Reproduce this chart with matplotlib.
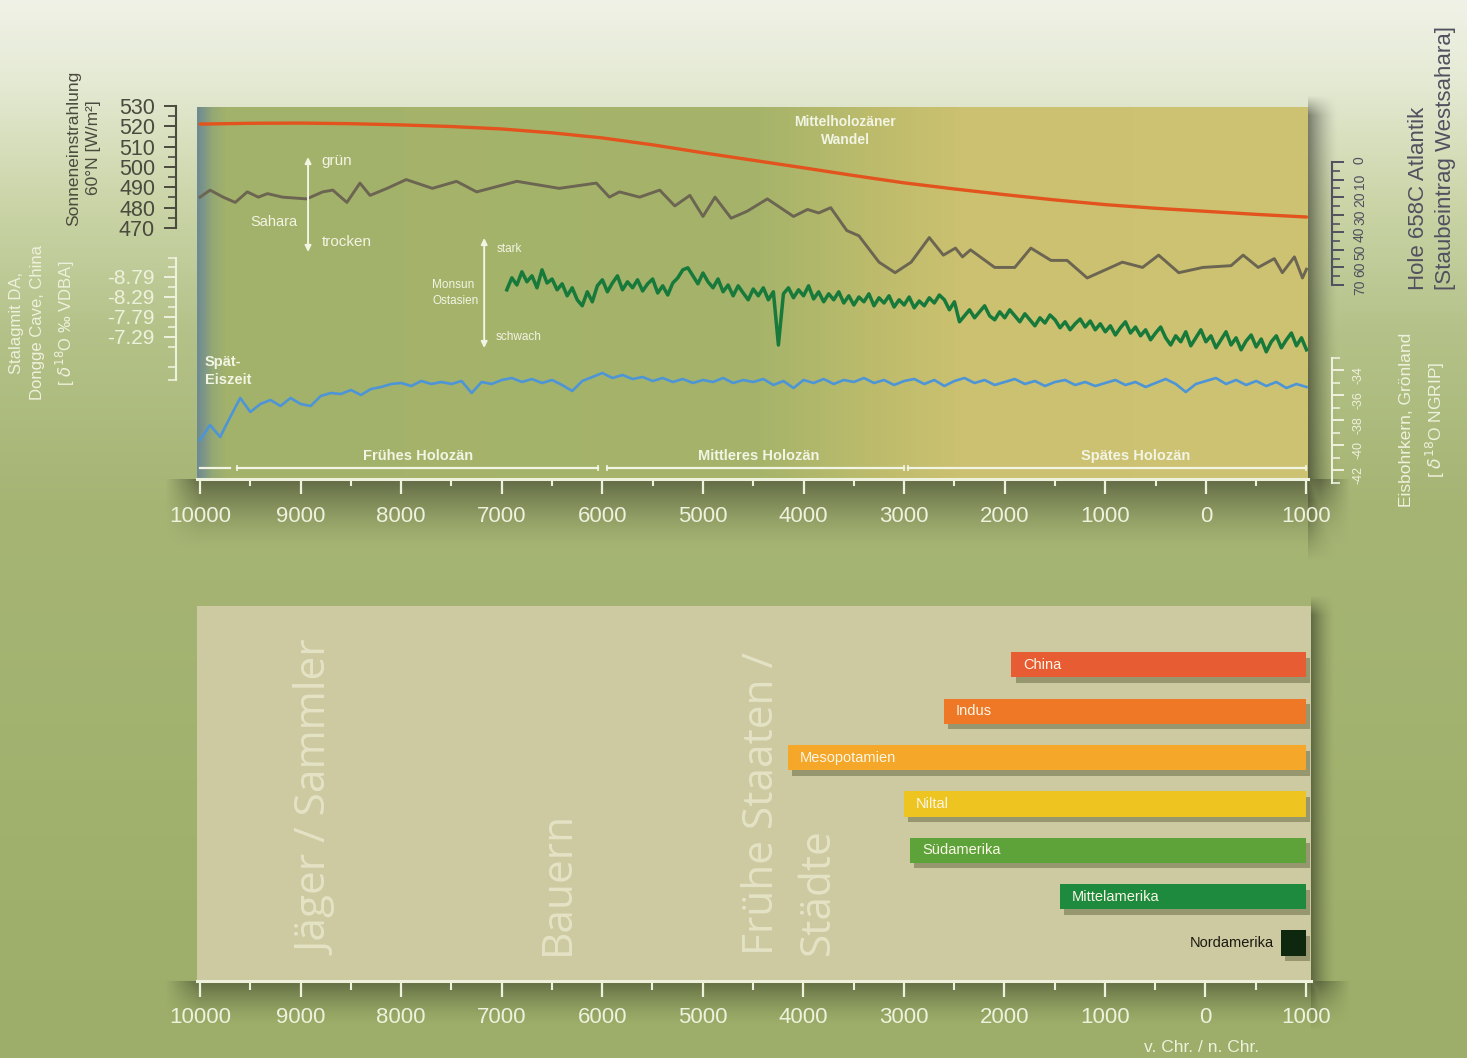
import numpy as np
import matplotlib
matplotlib.use("Agg")
import matplotlib.pyplot as plt
import matplotlib.patheffects as pe
from matplotlib.ticker import FixedLocator

plt.rcParams['font.family'] = ['Liberation Sans', 'DejaVu Sans']

# ------------------------------------------------------------------ data
x_tick_values = [-10000, -9000, -8000, -7000, -6000, -5000, -4000, -3000, -2000, -1000, 0, 1000]
x_tick_labels = ['10000', '9000', '8000', '7000', '6000', '5000', '4000', '3000', '2000', '1000', '0', '1000']

# summer insolation 60°N [W/m²]
insol_years = [-10000, -9500, -9000, -8500, -8000, -7500, -7000, -6500, -6000, -5500, -5000, -4500,
               -4000, -3500, -3000, -2500, -2000, -1500, -1000, -500, 0, 500, 1000]
insol_values = [521.1, 521.5, 521.6, 521.3, 520.7, 519.9, 518.7, 516.8, 514.3, 510.9, 507.0, 503.3,
                499.6, 495.8, 492.2, 489.2, 486.4, 483.8, 481.5, 479.7, 478.2, 476.7, 475.4]
insol_ticks = [470, 480, 490, 500, 510, 520, 530]

# Hole 658C Atlantik, dust input West Sahara (axis inverted)
sahara_years = [-10000, -9900, -9770, -9650, -9530, -9420, -9330, -9180, -8940, -8780, -8680, -8540,
                -8410, -8310, -8140, -7950, -7690, -7450, -7250, -6850, -6430, -6060, -5930, -5830,
                -5630, -5430, -5280, -5130, -5000, -4880, -4720, -4560, -4360, -4100, -3960, -3850,
                -3730, -3570, -3450, -3250, -3090, -2930, -2750, -2610, -2490, -2420, -2340, -2100,
                -1900, -1740, -1540, -1380, -1180, -830, -630, -470, -270, -30, 250, 370, 520, 680,
                760, 880, 960, 1000]
sahara_dust = [20, 16, 20, 23, 17, 20, 18, 20, 21, 17,
               16, 23, 12, 19, 15, 10, 15, 11, 17, 11,
               15, 12, 20, 17, 20, 16, 25, 19, 31, 20,
               32, 28, 21, 31, 27, 29, 26, 39, 42, 57,
               63, 57, 43, 53, 49, 54, 50, 60, 60, 49,
               56, 56, 66, 57, 60, 53, 63, 60, 59, 53,
               60, 55, 63, 54, 66, 61]
dust_ticks = [0, 10, 20, 30, 40, 50, 60, 70]

# Stalagmite DA, Dongge Cave, China  (delta18O permil VPDB)
dongge_years = list(range(-6950, 1001, 50))
dongge_d18o = [-8.47, -8.77, -8.59, -8.92, -8.67, -8.82, -8.52, -8.97, -8.64, -8.74,
               -8.47, -8.62, -8.32, -8.52, -8.22, -8.07, -8.42, -8.17, -8.57, -8.72,
               -8.42, -8.64, -8.82, -8.47, -8.67, -8.52, -8.72, -8.44, -8.62, -8.74,
               -8.39, -8.57, -8.34, -8.64, -8.77, -8.97, -9.02, -8.82, -8.62, -8.89,
               -8.67, -8.52, -8.74, -8.42, -8.59, -8.32, -8.57, -8.39, -8.22, -8.49,
               -8.32, -8.52, -8.22, -8.42, -7.09, -8.37, -8.52, -8.27, -8.47, -8.32,
               -8.57, -8.24, -8.42, -8.17, -8.37, -8.22, -8.42, -8.14, -8.32, -8.09,
               -8.29, -8.17, -8.37, -8.07, -8.27, -8.14, -8.32, -8.04, -8.22, -8.09,
               -8.29, -8.02, -8.19, -8.07, -8.27, -8.14, -8.34, -8.22, -7.97, -8.17,
               -7.67, -7.82, -7.97, -7.77, -7.92, -8.07, -7.82, -7.72, -7.92, -7.77,
               -7.97, -7.82, -7.67, -7.87, -7.72, -7.57, -7.77, -7.64, -7.84, -7.72,
               -7.52, -7.67, -7.47, -7.62, -7.74, -7.54, -7.69, -7.47, -7.62, -7.42,
               -7.57, -7.34, -7.52, -7.67, -7.39, -7.54, -7.32, -7.47, -7.22, -7.39,
               -7.54, -7.27, -7.09, -7.32, -7.17, -7.42, -7.07, -7.27, -7.47, -7.17,
               -7.32, -7.02, -7.22, -7.42, -7.09, -7.27, -6.97, -7.19, -7.34, -7.04,
               -7.24, -6.92, -7.17, -7.32, -7.02, -7.22, -7.39, -7.07, -7.27, -6.97]
dongge_ticks = [-8.79, -8.29, -7.79, -7.29]

# NGRIP ice core, Greenland (delta18O)
ngrip_years = list(range(-10000, 1001, 100))
ngrip_d18o = [-39.56, -38.36, -39.32, -37.72, -36.20, -37.32, -36.68, -36.36, -36.84, -36.20,
              -36.68, -36.84, -36.04, -35.80, -35.88, -35.56, -35.96, -35.48, -35.32, -35.08,
              -35.00, -35.24, -34.84, -35.08, -34.92, -35.08, -34.84, -35.80, -34.92, -35.08,
              -34.76, -34.60, -34.92, -34.68, -35.00, -34.76, -35.16, -35.64, -34.84, -34.52,
              -34.20, -34.60, -34.36, -34.68, -34.52, -34.84, -34.60, -34.92, -34.68, -35.00,
              -34.76, -34.92, -34.60, -35.00, -34.76, -34.92, -34.68, -35.16, -34.84, -35.40,
              -34.76, -35.00, -34.68, -35.08, -34.76, -34.92, -34.60, -35.00, -34.76, -35.16,
              -34.84, -34.68, -35.08, -34.76, -35.24, -34.84, -34.60, -35.00, -34.76, -35.16,
              -34.92, -34.68, -35.08, -34.84, -35.24, -34.92, -34.76, -35.16, -34.92, -35.24,
              -35.00, -34.76, -35.16, -34.92, -35.32, -35.00, -34.68, -35.08, -35.72, -35.08,
              -34.84, -34.60, -35.08, -34.76, -35.16, -34.84, -35.24, -34.92, -35.40, -35.08,
              -35.32]
ngrip_ticks = [-34, -36, -38, -40, -42]
ngrip_minor = [-33, -35, -37, -39, -41, -43]

# Holocene sub-periods
late_glacial = (-10000, -9700)
period_names = ['Frühes Holozän', 'Mittleres Holozän', 'Spätes Holozän']
period_start = [-9630, -5950, -2960]
period_end = [-6040, -3000, 1000]
period_label_x = [-7830, -4450, -700]

# early states / cities
civ_names = ['China', 'Indus', 'Mesopotamien', 'Niltal', 'Südamerika', 'Mittelamerika', 'Nordamerika']
civ_start = [-1930, -2600, -4150, -3000, -2940, -1450, 750]
civ_end = [1000, 1000, 1000, 1000, 1000, 1000, 1000]
civ_colors = ['#e85c34', '#ee7826', '#f4a728', '#eec420', '#5ea33a', '#1e8a3e', '#0e2810']

phase_labels = ['Jäger / Sammler', 'Bauern', 'Frühe Staaten /', 'Städte']

# ------------------------------------------------------------------ figure
W, H = 1467, 1058
fig = plt.figure(figsize=(W / 100, H / 100), dpi=100)

LIGHT = '#eef1dc'
DARK = '#4a4a3e'
DUSTC = '#50505f'


def ramp(pos, stops, cols):
    cols = np.asarray(cols, float)
    return np.stack([np.interp(pos, stops, cols[:, k]) for k in range(3)], axis=-1)


ys = np.arange(H, dtype=float)
xs = np.arange(W, dtype=float)
bg = np.repeat(ramp(ys, [0, 80, 200, 330, 500, 1058],
                    [(240, 242, 231), (229, 234, 212), (203, 213, 168), (180, 194, 137),
                     (166, 181, 116), (156, 174, 105)])[:, None, :], W, axis=1)
X, Y = np.meshgrid(xs, ys)


def band(t, length):
    return np.clip(1 - t / length, 0, 1) * (t >= 0)


hfade = np.clip((X - 165) / 35.0, 0, 1) * np.clip((1350 - X) / 30.0, 0, 1)
s1 = 0.42 * band(Y - 479, 70) ** 1.5 * hfade
s2 = 0.45 * band(X - 1308, 30) ** 1.5 * np.clip((Y - 95) / 20.0, 0, 1) * np.clip((560 - Y) / 60.0, 0, 1)
s3 = 0.38 * band(Y - 981, 45) ** 1.5 * hfade
s4 = 0.40 * band(X - 1311, 24) ** 1.5 * np.clip((Y - 595) / 20.0, 0, 1) * np.clip((1030 - Y) / 40.0, 0, 1)
shade = np.maximum.reduce([s1, s2, s3, s4])
bg = bg * (1 - shade[..., None])
tp = ramp(xs[197:1308], [197, 203, 212, 226, 760, 880, 960, 1308],
          [(110, 138, 146), (124, 149, 136), (148, 168, 116), (163, 178, 107), (166, 180, 106),
           (190, 188, 108), (203, 193, 112), (206, 195, 115)])
bg[107:479, 197:1308] = tp[None]
bg[606:981, 197:1311] = (205, 201, 160)

bg_ax = fig.add_axes([0, 0, 1, 1], zorder=-10)
bg_ax.imshow(np.clip(bg / 255.0, 0, 1), extent=[0, W, H, 0], aspect='auto', interpolation='bilinear')
bg_ax.set_xlim(0, W)
bg_ax.set_ylim(H, 0)
bg_ax.set_axis_off()


def rect(l, t, r, b):
    return [l / W, 1 - b / H, (r - l) / W, (b - t) / H]


def pt(px):
    return px * 72.0 / 100.0


TOP = (197, 107, 1308, 479)
OV = (197, 60, 1308, 560)
XL = (-10030, 1015)

# main top axes (x axis only)
ax = fig.add_axes(rect(*TOP))
ax.patch.set_visible(False)
ax.set_xlim(*XL)
ax.set_ylim(0, 1)
for s in ['left', 'right', 'top']:
    ax.spines[s].set_visible(False)
ax.spines['bottom'].set_color(LIGHT)
ax.spines['bottom'].set_linewidth(2.2)
ax.set_yticks([])
ax.set_xticks(x_tick_values)
ax.set_xticklabels(x_tick_labels)
ax.xaxis.set_minor_locator(FixedLocator([v + 500 for v in x_tick_values[:-1]]))
ax.tick_params(axis='x', which='major', direction='out', length=pt(15), width=1.6,
               colors=LIGHT, labelsize=16, pad=pt(12))
ax.tick_params(axis='x', which='minor', direction='out', length=pt(7), width=1.5, colors=LIGHT)


def overlay(v0, p0, v1, p1):
    a = fig.add_axes(rect(*OV))
    a.patch.set_visible(False)
    a.set_xlim(*XL)
    slope = (v1 - v0) / (p1 - p0)
    a.set_ylim(v0 + (OV[3] - p0) * slope, v0 + (OV[1] - p0) * slope)
    a.xaxis.set_visible(False)
    for s in a.spines.values():
        s.set_visible(False)
    return a


def style_axis(a, side, offset_px, bounds, ticks, minor, color, labelsize, rot=0, labels=None):
    sp = a.spines[side]
    sp.set_visible(True)
    sp.set_position(('outward', pt(offset_px)))
    sp.set_bounds(*bounds)
    sp.set_color(color)
    sp.set_linewidth(1.5)
    a.yaxis.set_ticks_position(side)
    a.yaxis.set_label_position(side)
    a.set_yticks(ticks)
    if labels is not None:
        a.set_yticklabels(labels)
    a.yaxis.set_minor_locator(FixedLocator(minor))
    a.tick_params(axis='y', which='major', direction='out', length=pt(12), width=1.4,
                  colors=color, labelsize=labelsize, pad=pt(9), labelrotation=rot)
    a.tick_params(axis='y', which='minor', direction='out', length=pt(8), width=1.2, colors=color)


# insolation (left, upper)
a_ins = overlay(530, 106, 470, 228)
style_axis(a_ins, 'left', 21, (470, 530), insol_ticks,
           [t + 5 for t in insol_ticks[:-1]], DARK, 15.5)
a_ins.plot(insol_years, insol_values, color='#e2531d', lw=2.4, solid_capstyle='round')

# Sahara dust (right, upper)
a_dust = overlay(0, 162, 70, 285)
style_axis(a_dust, 'right', 24, (0, 70), dust_ticks, [t + 5 for t in dust_ticks[:-1]],
           DUSTC, 10, rot=90)
a_dust.plot(sahara_years, sahara_dust, color='#6b6552', lw=2.1)

# Dongge (left, lower)
a_dong = overlay(-8.79, 277, -7.29, 337)
dong_lo = -8.79 + (258 - 277) * 0.025
dong_hi = -8.79 + (380 - 277) * 0.025
style_axis(a_dong, 'left', 21, (dong_lo, dong_hi), dongge_ticks,
           [dong_lo] + [t - 0.25 for t in dongge_ticks] + [dongge_ticks[-1] + 0.25, dongge_ticks[-1] + 0.75, dong_hi],
           LIGHT, 15, labels=['%.2f' % t for t in dongge_ticks])
a_dong.plot(dongge_years, dongge_d18o, color='#17793a', lw=2.5)

# NGRIP (right, lower)
a_ng = overlay(-33, 358, -43, 483)
style_axis(a_ng, 'right', 24, (-33, -43), ngrip_ticks, ngrip_minor, LIGHT, 9, rot=90,
           labels=['%d' % t for t in ngrip_ticks])
a_ng.plot(ngrip_years, ngrip_d18o, color='#4d95d6', lw=1.9)

# annotation layer for the top panel
ann = fig.add_axes(rect(*TOP))
ann.patch.set_visible(False)
ann.set_axis_off()
ann.set_xlim(*XL)
ann.set_ylim(0, 1)


def fy(py):
    return (TOP[3] - py) / (TOP[3] - TOP[1])


TXT = '#f2f4e4'
arrow_kw = dict(arrowstyle='<|-|>', color=TXT, lw=1.4, mutation_scale=9, shrinkA=0, shrinkB=0)
ann.annotate('', xy=(-8926, fy(157)), xytext=(-8926, fy(252)), arrowprops=arrow_kw)
ann.text(-8790, fy(161), 'grün', color=TXT, fontsize=11, ha='left', va='center')
ann.text(-8790, fy(242), 'trocken', color=TXT, fontsize=11, ha='left', va='center')
ann.text(-9035, fy(222), 'Sahara', color=TXT, fontsize=10.5, ha='right', va='center')
ann.annotate('', xy=(-7175, fy(238)), xytext=(-7175, fy(348)), arrowprops=arrow_kw)
ann.text(-7050, fy(249), 'stark', color=TXT, fontsize=8.5, ha='left', va='center')
ann.text(-7060, fy(337), 'schwach', color=TXT, fontsize=8.5, ha='left', va='center')
ann.text(-7230, fy(293), 'Monsun\nOstasien', color=TXT, fontsize=8.5, ha='right', va='center',
         multialignment='left', linespacing=1.5)
ann.text(-3585, fy(131), 'Mittelholozäner\nWandel', color=TXT, fontsize=10, fontweight='bold',
         ha='center', va='center', linespacing=1.4)
ann.text(-9950, fy(355), 'Spät-\nEiszeit', color=TXT, fontsize=10.5, fontweight='bold',
         ha='left', va='top', linespacing=1.35)

ann.plot(late_glacial, [fy(468)] * 2, color=TXT, lw=1.6)
for name, s, e, lx in zip(period_names, period_start, period_end, period_label_x):
    ann.plot([s, e], [fy(468)] * 2, color=TXT, lw=1.6, marker='|', markersize=5, markeredgewidth=1.2)
    ann.text(lx, fy(456), name, color=TXT, fontsize=10.5, fontweight='bold',
             ha='center', va='center')

# axis titles around the top panel
fig.text(84 / W, 1 - 148 / H, 'Sonneneinstrahlung\n60°N [W/m²]', rotation=90, color=DARK,
         fontsize=12.5, ha='center', va='center', multialignment='center', linespacing=1.4)
fig.text(43 / W, 1 - 323 / H, 'Stalagmit DA,\nDongge Cave, China\n[ $\\delta^{18}$O ‰ VDBA]',
         rotation=90, color=LIGHT, fontsize=12, ha='center', va='center',
         multialignment='center', linespacing=1.5)
fig.text(1418 / W, 1 - 290 / H, 'Hole 658C Atlantik', rotation=90, color=DUSTC, fontsize=16,
         ha='center', va='bottom')
fig.text(1445 / W, 1 - 290 / H, '[Staubeintrag Westsahara]', rotation=90, color=DUSTC, fontsize=16,
         ha='center', va='bottom')
fig.text(1423 / W, 1 - 420 / H, 'Eisbohrkern, Grönland\n[ $\\delta^{18}$O NGRIP]', rotation=90,
         color=LIGHT, fontsize=12.5, ha='center', va='center', multialignment='center', linespacing=1.5)

# ------------------------------------------------------------------ bottom panel
axb = fig.add_axes(rect(197, 606, 1311, 981))
axb.patch.set_visible(False)
axb.set_xlim(-10030, 1050)
axb.set_ylim(6.82, -1.273)
for s in ['left', 'right', 'top']:
    axb.spines[s].set_visible(False)
axb.spines['bottom'].set_color(LIGHT)
axb.spines['bottom'].set_linewidth(2.2)
axb.set_yticks([])
axb.set_xticks(x_tick_values)
axb.set_xticklabels(x_tick_labels)
axb.xaxis.set_minor_locator(FixedLocator([v + 500 for v in x_tick_values[:-1]]))
axb.tick_params(axis='x', which='major', direction='out', length=pt(16), width=1.6,
                colors=LIGHT, labelsize=16, pad=pt(10))
axb.tick_params(axis='x', which='minor', direction='out', length=pt(9), width=1.5, colors=LIGHT)

shadow = [pe.SimplePatchShadow(offset=(3, -4), shadow_rgbFace=(0.33, 0.36, 0.2), alpha=0.45), pe.Normal()]
for i, (name, s, e, c) in enumerate(zip(civ_names, civ_start, civ_end, civ_colors)):
    axb.barh(i, e - s, left=s, height=0.54, color=c, path_effects=shadow, zorder=3)
    if e - s > 1000:
        axb.text(s + 120, i, name, color='#fbf6e6', fontsize=10.5, ha='left', va='center', zorder=4)
    else:
        axb.text(s - 70, i, name, color='#1a1a10', fontsize=10.5, ha='right', va='center', zorder=4)

PHASE = '#e5e3c6'
yb = (981 - 955) / 375.0
tb = axb.get_xaxis_transform()
phase_x = [-8830, -6440, -4410, -3850]
for lbl, px_ in zip(phase_labels, phase_x):
    axb.text(px_, yb, lbl, transform=tb, rotation=90, color=PHASE, fontsize=30.5,
             family=['Open Sans', 'DejaVu Sans'], ha='center', va='bottom')

fig.text(1202 / W, 1 - 1048 / H, 'v. Chr. / n. Chr.', color=LIGHT, fontsize=12.5, ha='center', va='center')

fig.savefig('out.png', dpi=100)
